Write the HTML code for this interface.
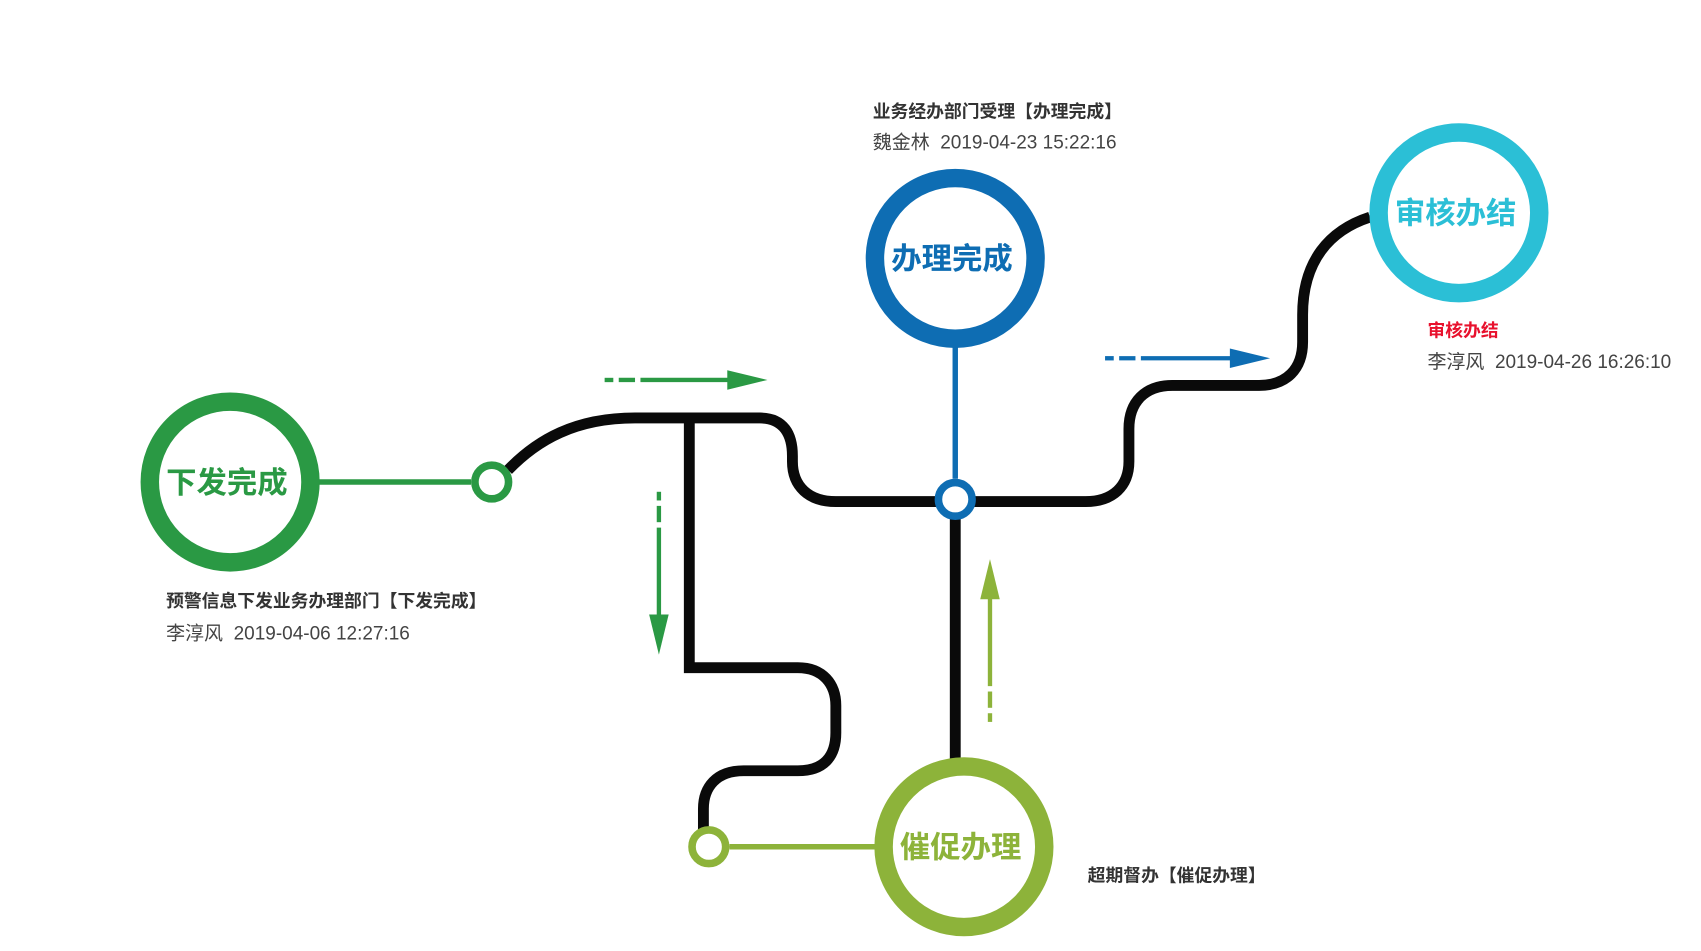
<!DOCTYPE html>
<html><head><meta charset="utf-8">
<style>
html,body{margin:0;padding:0;background:#fff;width:1701px;height:951px;overflow:hidden}
svg{display:block}
text{font-family:"Liberation Sans","Noto Sans CJK SC",sans-serif;white-space:pre}
</style></head>
<body>
<svg id="chart" width="1701" height="951" viewBox="0 0 1567 876" xmlns="http://www.w3.org/2000/svg">
  <g id="tracks" fill="none" stroke="#0a0a0a" stroke-width="10">
    <path d="M468,433 C495,405 530,385 585,385 L700,385 C722,385 730,400 730,420 L730,425 C730,448 745,462 770,462 L1000,462 C1025,462 1040,448 1040,425 L1040,395 C1040,370 1055,355 1080,355 L1160,355 C1185,355 1200,340 1200,315 L1200,290 C1200,240 1225,212 1262,200"/>
    <path d="M635,385 L635,615 L735,615 C758,615 770,630 770,650 L770,675 C770,698 758,710 735,710 L685,710 C660,710 648,725 648,745 L648,765"/>
    <path d="M880,470 L880,705"/>
  </g>
  <g id="arrows"></g>
  <g id="nodes"></g>
  <g>
    <text x="153" y="559" font-size="16.4" font-weight="bold" fill="#333">预警信息下发业务办理部门【下发完成】</text>
    <text x="153" y="589" font-size="17.5" fill="#444">李淳风  2019-04-06 12:27:16</text>
    <text x="804" y="108" font-size="16.4" font-weight="bold" fill="#333">业务经办部门受理【办理完成】</text>
    <text x="804" y="137" font-size="17.5" fill="#444">魏金林  2019-04-23 15:22:16</text>
    <text x="1315" y="310" font-size="16.4" font-weight="bold" fill="#e8112d">审核办结</text>
    <text x="1315" y="339" font-size="17.5" fill="#444">李淳风  2019-04-26 16:26:10</text>
    <text x="1002" y="812" font-size="16.4" font-weight="bold" fill="#333">超期督办【催促办理】</text>
  </g>
</svg>
<script>
const ns='http://www.w3.org/2000/svg';
const nodeLabels=['下发完成','办理完成','审核办结','催促办理'];
const nodeColors=['#2a9944','#0e6db3','#2bbfd6','#8db33a'];
const nodeCx=[212,880,1344,888];
const nodeCy=[444,238,196,780];
const ringCx=[453,880,null,653];
const ringCy=[444,460,null,780];
const arrowX1=[557,607,912,1018];
const arrowY1=[350,453,665,330];
const arrowX2=[707,607,912,1170];
const arrowY2=[350,603,515,330];
const arrowColors=['#2a9944','#2a9944','#8db33a','#0e6db3'];
const R=74, SW=17, r=19;
const nodes=document.getElementById('nodes');
function mk(tag,attrs,parent){const e=document.createElementNS(ns,tag);for(const k in attrs)e.setAttribute(k,attrs[k]);parent.appendChild(e);return e;}
nodeLabels.forEach((lab,i)=>{
  const g=mk('g',{},nodes);
  
  
  const c=nodeColors[i];
  if(ringCx[i]!==null){
    const dx=ringCx[i]-nodeCx[i], dy=ringCy[i]-nodeCy[i], d=Math.hypot(dx,dy);
    const ux=dx/d, uy=dy/d;
    const st=mk('line',{x1:nodeCx[i]+ux*(R),y1:nodeCy[i]+uy*(R),x2:ringCx[i]-ux*r,y2:ringCy[i]-uy*r,stroke:c,'stroke-width':5},g);
    
    
    const rg=mk('circle',{cx:ringCx[i],cy:ringCy[i],r:r-3.5,fill:'#fff',stroke:c,'stroke-width':7},g);
    
    
  }
  const cc=mk('circle',{cx:nodeCx[i],cy:nodeCy[i],r:R,fill:'#fff',stroke:c,'stroke-width':SW},g);
  
  
  const t=mk('text',{x:nodeCx[i]-3,y:nodeCy[i]+10,'text-anchor':'middle','font-size':28,'font-weight':'bold',fill:c},g);
  t.textContent=lab;
  
  
});
const arrows=document.getElementById('arrows');
arrowX1.forEach((x1,i)=>{
  const g=mk('g',{},arrows);
  
  
  const x2=arrowX2[i], y1=arrowY1[i], y2=arrowY2[i], c=arrowColors[i];
  const L=Math.hypot(x2-x1,y2-y1), ux=(x2-x1)/L, uy=(y2-y1)/L, px=-uy, py=ux;
  const P=(t)=>[x1+ux*t,y1+uy*t];
  const segs=[[0,8],[13,28],[33,L-36]];
  segs.forEach(s=>{const a=P(s[0]),b=P(s[1]);mk('line',{x1:a[0],y1:a[1],x2:b[0],y2:b[1],stroke:c,'stroke-width':4},g);});
  const h=P(L-37), tip=P(L);
  mk('polygon',{points:`${tip[0]},${tip[1]} ${h[0]+px*9},${h[1]+py*9} ${h[0]-px*9},${h[1]-py*9}`,fill:c},g);
});
</script>
</body></html>
